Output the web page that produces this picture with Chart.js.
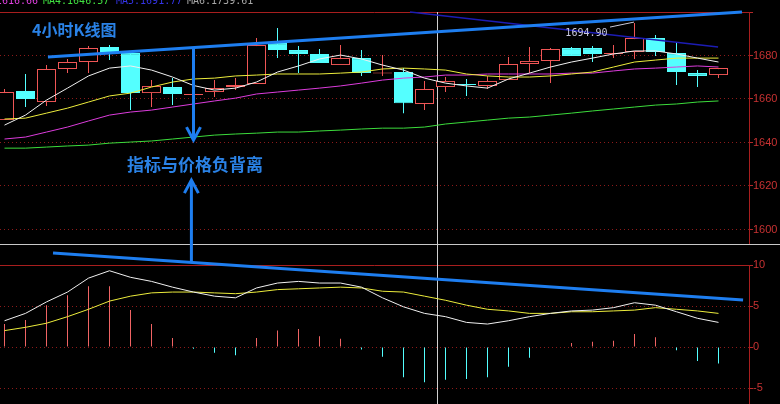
<!DOCTYPE html>
<html>
<head>
<meta charset="utf-8">
<script src="https://cdn.jsdelivr.net/npm/chart.js@4.4.1/dist/chart.umd.min.js"></script>
<style>
  html, body { margin: 0; padding: 0; background: #000; }
  #wrap { width: 780px; height: 404px; }
</style>
</head>
<body>
<div id="wrap"><canvas id="kChart" width="780" height="404"></canvas></div>
<script>
// 4小时K线 OHLC
const opens  = [1650.3, 1663.7, 1658.6, 1673.8, 1677.0, 1683.9, 1681.1, 1662.7, 1665.5, 1661.8, 1663.2, 1665.5, 1666.9, 1685.7, 1682.5, 1680.7, 1675.6, 1678.8, 1671.7, 1672.4, 1657.7, 1665.5, 1666.9, 1666.0, 1668.7, 1676.1, 1677.5, 1683.4, 1683.4, 1680.7, 1681.6, 1688.0, 1681.1, 1671.9, 1671.0];
const closes = [1663.2, 1660.0, 1673.8, 1677.0, 1683.4, 1681.1, 1662.7, 1666.0, 1662.3, 1662.3, 1665.0, 1666.4, 1684.8, 1682.5, 1680.7, 1676.5, 1678.8, 1671.9, 1672.2, 1658.1, 1664.6, 1668.3, 1666.4, 1668.3, 1676.1, 1677.5, 1683.0, 1679.8, 1680.7, 1681.1, 1688.0, 1681.6, 1672.4, 1670.6, 1674.2];
const highs  = [1664.6, 1671.5, 1675.6, 1678.4, 1684.4, 1684.8, 1681.6, 1668.7, 1669.6, 1662.7, 1668.7, 1669.6, 1688.0, 1692.6, 1684.4, 1683.0, 1684.8, 1682.5, 1680.2, 1674.2, 1668.3, 1670.1, 1669.2, 1670.6, 1679.3, 1683.9, 1683.4, 1683.9, 1684.4, 1684.8, 1694.9, 1689.4, 1685.7, 1673.3, 1674.2];
const lows   = [1650.3, 1656.3, 1656.8, 1671.9, 1671.9, 1677.9, 1654.9, 1656.3, 1657.2, 1661.8, 1660.9, 1664.1, 1666.9, 1678.8, 1671.9, 1676.5, 1675.6, 1670.6, 1670.6, 1653.5, 1654.9, 1663.2, 1661.4, 1664.6, 1668.7, 1671.9, 1667.3, 1679.8, 1677.0, 1678.8, 1678.4, 1679.8, 1666.4, 1665.5, 1669.6];

// moving averages
const maWhite   = [1648.0, 1652.6, 1659.5, 1665.0, 1670.6, 1674.2, 1675.2, 1673.3, 1670.1, 1666.2, 1664.1, 1665.0, 1667.8, 1672.4, 1675.2, 1678.4, 1680.2, 1678.4, 1675.6, 1673.3, 1669.6, 1667.3, 1666.0, 1665.0, 1669.2, 1671.9, 1674.7, 1677.0, 1678.8, 1680.7, 1682.1, 1682.1, 1680.7, 1678.8, 1677.0];
const maYellow  = [1650.8, 1651.2, 1653.5, 1655.8, 1658.6, 1661.4, 1662.7, 1665.5, 1667.8, 1669.2, 1669.6, 1670.6, 1671.0, 1671.5, 1671.5, 1671.5, 1671.9, 1672.4, 1673.8, 1674.2, 1673.8, 1673.3, 1671.5, 1670.6, 1670.1, 1670.1, 1670.6, 1671.5, 1672.4, 1674.7, 1677.0, 1677.9, 1678.8, 1678.8, 1678.8];
const maMagenta = [1641.6, 1642.5, 1644.8, 1647.1, 1649.9, 1652.6, 1654.0, 1654.9, 1656.3, 1657.7, 1659.1, 1660.4, 1662.3, 1663.2, 1664.1, 1665.0, 1666.0, 1667.3, 1668.7, 1669.6, 1670.1, 1671.0, 1671.0, 1671.5, 1671.5, 1671.5, 1671.5, 1671.9, 1671.9, 1672.9, 1673.8, 1674.2, 1674.7, 1675.2, 1674.7];
const maGreen   = [1637.4, 1637.4, 1637.9, 1638.4, 1638.8, 1639.7, 1640.2, 1640.7, 1641.6, 1642.5, 1643.4, 1643.9, 1644.3, 1644.8, 1644.8, 1645.3, 1645.7, 1646.2, 1646.6, 1646.6, 1647.1, 1648.5, 1649.4, 1650.3, 1651.2, 1651.7, 1652.6, 1653.5, 1654.5, 1655.4, 1656.3, 1657.2, 1657.7, 1658.6, 1659.1];

// MACD panel
const macdHist = [2.8, 3.3, 5.1, 6.3, 7.4, 7.4, 4.5, 2.8, 1.1, -0.2, -0.7, -1.0, 1.1, 2.0, 2.2, 1.3, 1.0, -0.3, -1.2, -3.7, -4.3, -4.0, -3.9, -3.7, -2.4, -1.3, 0.05, 0.5, 0.65, 0.75, 1.6, 1.2, -0.4, -1.7, -2.0];
const macdDif  = [3.2, 4.1, 5.5, 6.7, 8.4, 9.3, 8.5, 8.0, 7.3, 6.7, 6.2, 6.0, 7.2, 7.8, 8.0, 7.8, 7.8, 7.3, 6.0, 4.9, 4.1, 3.7, 3.0, 2.8, 3.2, 3.7, 4.1, 4.4, 4.5, 4.8, 5.4, 5.1, 4.3, 3.5, 3.0];
const macdDea  = [2.0, 2.4, 2.9, 3.7, 4.6, 5.6, 6.2, 6.6, 6.7, 6.7, 6.6, 6.5, 6.7, 7.0, 7.1, 7.2, 7.3, 7.2, 6.8, 6.7, 6.2, 5.7, 5.1, 4.6, 4.4, 4.1, 4.1, 4.3, 4.3, 4.4, 4.5, 4.8, 4.6, 4.4, 4.1];

const priceTicks = [1600, 1620, 1640, 1660, 1680, 1700];
const macdTicks = [-5, 0, 5, 10];

// annotations, in data units [index, value]
const topTrend  = [[2.07, 1679.3], [35.12, 1700]];
const navyTrend = [[19.31, 1700], [33.98, 1683.9]];
const macdTrend = [[2.31, 11.47], [35.17, 5.73]];
const downArrow = { x: 9, from: 1683.4, to: 1641.1 };
const upArrow = { x: 8.9, tip: 1622.7, baseMacd: 10.24 };
const crossX = 20.6;
const highMark = { index: 30, text: '1694.90' };
const headerItems = [
  { text: 'MA3:1616.66', color: '#e040e0', x: 38, align: 'right' },
  { text: 'MA4:1646.57', color: '#40e040', x: 43, align: 'left' },
  { text: 'MA5:1691.77', color: '#3434e6', x: 116, align: 'left' },
  { text: 'MA6:1739.61', color: '#a8a8a8', x: 187, align: 'left' }
];

const RED = '#f05656';
const CYAN = '#54ffff';
const BLUE = '#1e7ef0';
const idx = opens.map((_, i) => i);
const isUp = i => closes[i] >= opens[i];

const fixAxis = axis => {
  axis.width = 31;
  axis.paddingTop = 0;
  axis.paddingBottom = 0;
};

function drawArrow(ctx, x, y1, y2) {
  const dir = Math.sign(y2 - y1);
  ctx.beginPath();
  ctx.moveTo(x, y1);
  ctx.lineTo(x, y2);
  ctx.stroke();
  ctx.beginPath();
  ctx.moveTo(x - 7, y2 - dir * 13);
  ctx.lineTo(x, y2);
  ctx.lineTo(x + 7, y2 - dir * 13);
  ctx.stroke();
}

const backdrop = {
  id: 'backdrop',
  beforeDatasetsDraw(chart) {
    const { ctx, chartArea } = chart;
    const { x, yGap } = chart.scales;
    ctx.save();
    ctx.strokeStyle = '#c8c8c8';
    ctx.lineWidth = 1;
    const sy = Math.round(yGap.top) + 0.5;
    ctx.beginPath();
    ctx.moveTo(0, sy);
    ctx.lineTo(chart.width, sy);
    ctx.stroke();
    const cx = Math.round(x.getPixelForValue(crossX)) + 0.5;
    ctx.strokeStyle = '#d0d0d0';
    ctx.beginPath();
    ctx.moveTo(cx, chartArea.top);
    ctx.lineTo(cx, chartArea.bottom);
    ctx.stroke();
    ctx.restore();
  }
};

const overlay = {
  id: 'overlay',
  afterDatasetsDraw(chart) {
    const { ctx } = chart;
    const { x, y, yM } = chart.scales;
    ctx.save();

    // navy trend line
    ctx.strokeStyle = '#1c1cb4';
    ctx.lineWidth = 1.5;
    ctx.beginPath();
    ctx.moveTo(x.getPixelForValue(navyTrend[0][0]), y.getPixelForValue(navyTrend[0][1]));
    ctx.lineTo(x.getPixelForValue(navyTrend[1][0]), y.getPixelForValue(navyTrend[1][1]));
    ctx.stroke();

    // blue divergence lines
    ctx.strokeStyle = BLUE;
    ctx.lineWidth = 3;
    ctx.lineCap = 'butt';
    ctx.beginPath();
    ctx.moveTo(x.getPixelForValue(topTrend[0][0]), y.getPixelForValue(topTrend[0][1]));
    ctx.lineTo(x.getPixelForValue(topTrend[1][0]), y.getPixelForValue(topTrend[1][1]));
    ctx.stroke();
    ctx.beginPath();
    ctx.moveTo(x.getPixelForValue(macdTrend[0][0]), yM.getPixelForValue(macdTrend[0][1]));
    ctx.lineTo(x.getPixelForValue(macdTrend[1][0]), yM.getPixelForValue(macdTrend[1][1]));
    ctx.stroke();

    drawArrow(ctx, x.getPixelForValue(downArrow.x), y.getPixelForValue(downArrow.from), y.getPixelForValue(downArrow.to));
    drawArrow(ctx, x.getPixelForValue(upArrow.x), yM.getPixelForValue(upArrow.baseMacd), y.getPixelForValue(upArrow.tip));

    // high marker
    const hx = x.getPixelForValue(highMark.index);
    const hy = y.getPixelForValue(highs[highMark.index]);
    ctx.strokeStyle = '#c8c8d8';
    ctx.lineWidth = 1;
    ctx.beginPath();
    ctx.moveTo(hx - 24.5, hy + 4);
    ctx.lineTo(hx - 0.5, hy - 1);
    ctx.stroke();
    ctx.fillStyle = '#c8c8e0';
    ctx.font = '10px "DejaVu Sans Mono"';
    ctx.textAlign = 'right';
    ctx.textBaseline = 'alphabetic';
    ctx.fillText(highMark.text, hx - 27, hy + 13);

    // texts
    ctx.fillStyle = '#2a82e6';
    ctx.textAlign = 'left';
    ctx.textBaseline = 'middle';
    ctx.font = 'bold 16px "Noto Sans CJK SC"';
    ctx.fillText('4小时K线图', 32, 30);
    ctx.font = 'bold 17px "Noto Sans CJK SC"';
    ctx.fillText('指标与价格负背离', 127, 165);

    // header values, clipped at the top edge
    ctx.font = '10px "DejaVu Sans Mono"';
    ctx.textBaseline = 'alphabetic';
    headerItems.forEach(h => {
      ctx.fillStyle = h.color;
      ctx.textAlign = h.align;
      ctx.fillText(h.text, h.x, 4);
    });
    ctx.restore();
  }
};

const lineSet = (label, values, color, axis) => ({
  type: 'line',
  label,
  data: idx.map(i => ({ x: i, y: values[i] })),
  yAxisID: axis,
  borderColor: color,
  borderWidth: 1,
  pointRadius: 0,
  tension: 0,
  fill: false,
  order: 0
});

const barBase = {
  grouped: false,
  categoryPercentage: 1,
  barPercentage: 1,
  inflateAmount: 0,
  borderSkipped: false
};

new Chart(document.getElementById('kChart'), {
  type: 'bar',
  data: {
    datasets: [
      lineSet('MA1', maWhite, '#f0f0f0', 'y'),
      lineSet('MA2', maYellow, '#ecec3c', 'y'),
      lineSet('MA3', maMagenta, '#dc3cdc', 'y'),
      lineSet('MA4', maGreen, '#3cdc3c', 'y'),
      Object.assign({}, barBase, {
        label: '实体',
        data: idx.map(i => ({ x: i, y: [opens[i], closes[i]] })),
        yAxisID: 'y',
        backgroundColor: c => isUp(c.dataIndex) ? '#000000' : CYAN,
        borderColor: c => isUp(c.dataIndex) ? RED : CYAN,
        borderWidth: 1,
        maxBarThickness: 19,
        order: 1
      }),
      Object.assign({}, barBase, {
        label: '影线',
        data: idx.map(i => ({ x: i, y: [lows[i], highs[i]] })),
        yAxisID: 'y',
        backgroundColor: c => isUp(c.dataIndex) ? RED : CYAN,
        borderWidth: 0,
        maxBarThickness: 1,
        order: 2
      }),
      Object.assign({}, barBase, {
        label: 'MACD',
        data: idx.map(i => ({ x: i, y: macdHist[i] })),
        yAxisID: 'yM',
        backgroundColor: c => macdHist[c.dataIndex] >= 0 ? '#f06464' : CYAN,
        borderWidth: 0,
        maxBarThickness: 1,
        order: 2
      }),
      lineSet('DIF', macdDif, '#f0f0f0', 'yM'),
      lineSet('DEA', macdDea, '#ecec3c', 'yM')
    ]
  },
  options: {
    responsive: false,
    animation: false,
    events: [],
    layout: { padding: { top: 12, left: 0, right: 0, bottom: 0 } },
    plugins: { legend: { display: false }, tooltip: { enabled: false } },
    scales: {
      x: { type: 'linear', display: false, offset: false, min: -0.2143, max: 35.4524 },
      y: {
        type: 'linear', position: 'right', stack: 'panes', stackWeight: 232, weight: 1,
        min: 1593.33, max: 1700,
        afterBuildTicks: a => { a.ticks = priceTicks.map(v => ({ value: v })); },
        afterFit: fixAxis,
        grid: {
          color: c => (c.tick && c.tick.value === 1700) ? '#a81e1e' : '#8c1a1a',
          lineWidth: 1, tickLength: 4, tickColor: '#b42828'
        },
        border: {
          color: '#a81e1e', width: 1,
          dash: c => (c.tick && c.tick.value === 1700) ? [] : [1, 3]
        },
        ticks: {
          color: '#c83232', padding: 0,
          font: { family: 'Liberation Sans', size: 11 },
          callback: v => v === 1700 ? '' : String(v)
        }
      },
      yGap: {
        type: 'linear', position: 'right', stack: 'panes', stackWeight: 21, weight: 2,
        min: 0, max: 1,
        afterFit: fixAxis,
        grid: { display: false },
        border: { display: false },
        ticks: { display: false }
      },
      yM: {
        type: 'linear', position: 'right', stack: 'panes', stackWeight: 139, weight: 3,
        min: -6.95, max: 10,
        afterBuildTicks: a => { a.ticks = macdTicks.map(v => ({ value: v })); },
        afterFit: fixAxis,
        grid: {
          color: c => (c.tick && c.tick.value === 10) ? '#a81e1e' : '#8c1a1a',
          lineWidth: 1, tickLength: 4, tickColor: '#b42828'
        },
        border: {
          color: '#a81e1e', width: 1,
          dash: c => (c.tick && c.tick.value === 10) ? [] : [1, 3]
        },
        ticks: {
          color: '#c83232', padding: 0,
          font: { family: 'Liberation Sans', size: 11 },
          callback: v => String(v)
        }
      }
    }
  },
  plugins: [backdrop, overlay]
});
</script>
</body>
</html>
